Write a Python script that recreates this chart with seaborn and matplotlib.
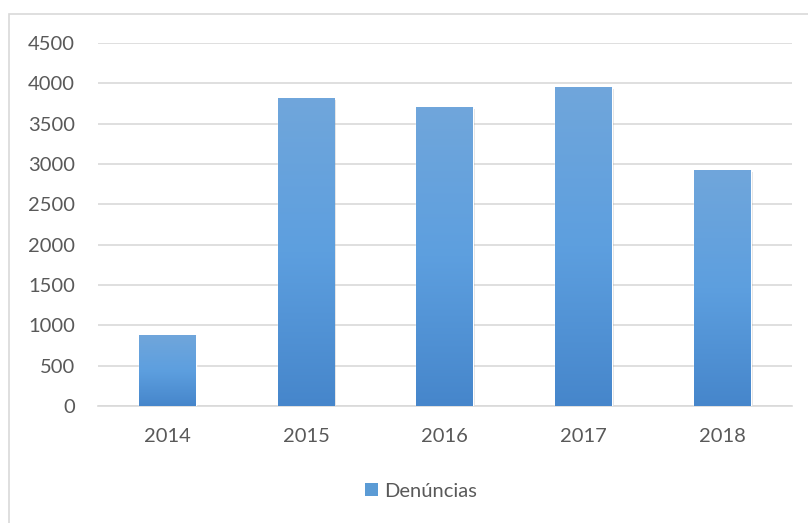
import matplotlib
matplotlib.use('Agg')
import matplotlib.pyplot as plt
import matplotlib.patches as mpatches
import numpy as np
import pandas as pd
import seaborn as sns

# dados do gráfico
anos = ['2014', '2015', '2016', '2017', '2018']
denuncias = [880, 3815, 3705, 3955, 2925]
serie = 'Denúncias'

df = pd.DataFrame({'ano': anos, 'valor': denuncias})

sns.set_style('white')
plt.rcParams['font.family'] = ['Lato', 'DejaVu Sans']

fig = plt.figure(figsize=(8.08, 5.23), dpi=100)
ax = fig.add_axes([0.121, 0.224, 0.859, 0.694])

# moldura do gráfico (estilo Excel)
fig.patches.append(mpatches.Rectangle((9 / 808, -0.1), 1.2, (523 - 14) / 523 + 0.1,
                                      transform=fig.transFigure, fill=False,
                                      edgecolor='#d9d9d9', linewidth=1.2))

sns.barplot(data=df, x='ano', y='valor', color='#5b9bd5', width=0.41,
            saturation=1, ax=ax, zorder=3)

# gradiente nas barras + sombra
cmap = matplotlib.colors.LinearSegmentedColormap.from_list('g', ['#4686cb', '#5d9fdf', '#70a6db'])
grad = np.linspace(0, 1, 256).reshape(-1, 1)
for p in ax.patches:
    x0, y0 = p.get_x(), p.get_y()
    w, h = p.get_width(), p.get_height()
    sh = mpatches.Rectangle((x0 + 0.012, y0 - 25), w, h, facecolor='#000000',
                            alpha=0.12, edgecolor='none', zorder=2)
    ax.add_patch(sh)
    im = ax.imshow(grad, cmap=cmap, origin='lower', aspect='auto',
                   extent=[x0, x0 + w, y0, y0 + h], zorder=3.5)
    im.set_clip_path(p)

ax.set_xlim(-0.5, 4.5)
ax.set_ylim(0, 4500)
ax.set_yticks(range(0, 4501, 500))
ax.yaxis.grid(True, color='#d9d9d9', linewidth=1.2, zorder=0)
ax.set_axisbelow(True)
for s in ['top', 'right', 'left']:
    ax.spines[s].set_visible(False)
ax.spines['bottom'].set_color('#d9d9d9')
ax.spines['bottom'].set_linewidth(1.2)
ax.tick_params(axis='both', length=0, labelsize=14.5, colors='#595959')
ax.tick_params(axis='y', pad=16.5)
ax.tick_params(axis='x', pad=16)
ax.set_xlabel('')
ax.set_ylabel('')

handle = mpatches.Patch(facecolor='#5b9bd5', edgecolor='none', label=serie)
fig.legend(handles=[handle], loc='center', bbox_to_anchor=(0.521, 0.061), frameon=False,
           fontsize=14.5, labelcolor='#595959', handlelength=0.65, handleheight=0.65,
           handletextpad=0.3)

fig.savefig('out.png', dpi=100)
